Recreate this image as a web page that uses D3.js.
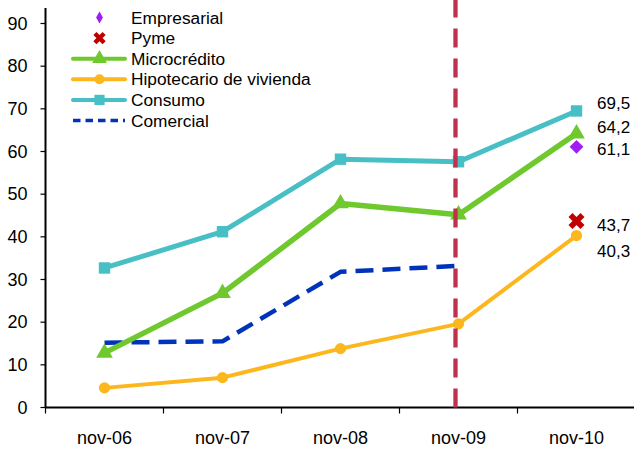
<!DOCTYPE html>
<html>
<head>
<meta charset="utf-8">
<script src="https://cdn.jsdelivr.net/npm/d3@7"></script>
<style>
  html, body { margin: 0; padding: 0; background: #fff; }
  svg { display: block; font-family: "Liberation Sans", Arial, sans-serif; }
</style>
</head>
<body>
<svg id="chart" width="634" height="449"></svg>
<script>
// ---- data ----
const categories = ["nov-06", "nov-07", "nov-08", "nov-09", "nov-10"];
const consumo      = [32.7, 41.2, 58.2, 57.6, 69.5];
const microcredito = [12.8, 26.8, 47.8, 45.2, 64.2];
const hipotecario  = [4.6, 7.0, 13.8, 19.6, 40.3];
const comercial    = [15.2, 15.5, 31.8, 33.2, null];
const empresarial  = [null, null, null, null, 61.1];
const pyme         = [null, null, null, null, 43.7];
const yTicks = [0, 10, 20, 30, 40, 50, 60, 70, 80, 90];
const markerCategory = "nov-09";
const legendNames = ["Empresarial", "Pyme", "Microcrédito", "Hipotecario de vivienda", "Consumo", "Comercial"];

// ---- setup ----
const svg = d3.select("#chart");
const x = d3.scaleBand().domain(categories).range([45.5, 635.5]);
const y = d3.scaleLinear().domain([0, 90]).range([407.5, 23.5]);
const cx = c => x(c) + x.bandwidth() / 2;

const series = [
  { name: "Comercial", values: comercial, color: "#0033BB", width: 4.5, dash: "18,9", symbol: null, legendDash: "7.5,5", legendWidth: 3.5 },
  { name: "Hipotecario de vivienda", values: hipotecario, color: "#FDB71E", width: 4, symbol: "circle", size: 100, labelDy: 15 },
  { name: "Consumo", values: consumo, color: "#48BFC5", width: 5, symbol: "square", size: 130, labelDy: -8 },
  { name: "Microcrédito", values: microcredito, color: "#70C82F", width: 5.5, symbol: "triangle", size: 120, labelDy: -7 },
  { name: "Empresarial", values: empresarial, color: "#A01CF5", symbol: "diamond", size: 95, labelDy: 2.5 },
  { name: "Pyme", values: pyme, color: "#C00000", symbol: "x", size: 160, labelDy: 4 }
];

function symPath(kind, size) {
  if (kind === "circle") return d3.symbol(d3.symbolCircle, size)();
  if (kind === "square") return d3.symbol(d3.symbolSquare, size)();
  if (kind === "triangle") return d3.symbol(d3.symbolTriangle, size)();
  if (kind === "diamond") return d3.symbol(d3.symbolSquare, size)();
  if (kind === "diamondTall") return d3.symbol(d3.symbolDiamond, size)();
  if (kind === "x") return d3.symbol(d3.symbolCross, size)();
  return null;
}
function symRotate(kind) {
  return (kind === "diamond" || kind === "x") ? 45 : 0;
}

// ---- axes ----
const gY = svg.append("g").attr("transform", "translate(45.5,0)");
gY.append("line").attr("x1", 0).attr("x2", 0).attr("y1", 8).attr("y2", y(0))
  .attr("stroke", "#000").attr("stroke-width", 2);
gY.selectAll("line.t").data(yTicks).join("line").attr("class", "t")
  .attr("x1", -5).attr("x2", 0).attr("y1", d => y(d)).attr("y2", d => y(d))
  .attr("stroke", "#000").attr("stroke-width", 1.2);
gY.selectAll("text").data(yTicks).join("text")
  .attr("x", -18).attr("y", d => y(d)).attr("dy", "0.35em")
  .attr("text-anchor", "end").attr("font-size", 18).attr("fill", "#000")
  .text(d => d);

const gX = svg.append("g");
gX.append("line").attr("x1", 45.5).attr("x2", 634).attr("y1", y(0)).attr("y2", y(0))
  .attr("stroke", "#000").attr("stroke-width", 2);
const bounds = categories.map(c => x(c)).concat([x.range()[1]]);
gX.selectAll("line.t").data(bounds).join("line").attr("class", "t")
  .attr("x1", d => d).attr("x2", d => d).attr("y1", y(0)).attr("y2", y(0) + 6)
  .attr("stroke", "#000").attr("stroke-width", 1.2);
gX.selectAll("text").data(categories).join("text")
  .attr("x", d => cx(d)).attr("y", 438).attr("dy", "0.35em")
  .attr("text-anchor", "middle").attr("font-size", 18).attr("fill", "#000")
  .text(d => d);

// ---- lines ----
const plot = svg.append("g");
series.forEach(s => {
  const pts = categories.map((c, i) => ({ c, v: s.values[i] })).filter(p => p.v != null);
  if (s.width && pts.length > 1) {
    plot.append("path").datum(pts)
      .attr("d", d3.line().x(p => cx(p.c)).y(p => y(p.v)))
      .attr("fill", "none").attr("stroke", s.color).attr("stroke-width", s.width)
      .attr("stroke-linejoin", "round")
      .attr("stroke-dasharray", s.dash || null);
  }
  if (s.symbol) {
    plot.selectAll(null).data(pts).join("path")
      .attr("d", symPath(s.symbol, s.size))
      .attr("transform", p => `translate(${cx(p.c)},${y(p.v)}) rotate(${symRotate(s.symbol)})`)
      .attr("fill", s.color);
  }
});

// ---- vertical dashed marker ----
svg.append("line")
  .attr("x1", cx(markerCategory) - 3).attr("x2", cx(markerCategory) - 3)
  .attr("y1", y(0)).attr("y2", 0)
  .attr("stroke", "#C0304F").attr("stroke-width", 4.3)
  .attr("stroke-dasharray", "19,11");

// ---- end labels ----
series.filter(s => s.labelDy !== undefined).forEach(s => {
  const v = s.values[categories.length - 1];
  svg.append("text")
    .attr("x", 597).attr("y", y(v) + s.labelDy).attr("dy", "0.35em")
    .attr("font-size", 17).attr("fill", "#000")
    .text(d3.format(".1f")(v).replace(".", ","));
});

// ---- legend ----
const legendRows = legendNames.map(n => series.find(s => s.name === n));
const lg = svg.append("g");
legendRows.forEach((s, i) => {
  const ly = 17.5 + i * 20.6;
  const g = lg.append("g").attr("transform", `translate(0,${ly})`);
  if (s.width) {
    g.append("line").attr("x1", 73).attr("x2", 125).attr("y1", 0).attr("y2", 0)
      .attr("stroke", s.color).attr("stroke-width", s.legendWidth || 4)
      .attr("stroke-linecap", s.dash ? "butt" : "round")
      .attr("stroke-dasharray", s.legendDash || null);
  }
  if (s.symbol) {
    let kind = s.symbol, size = s.size * 0.8;
    if (kind === "diamond") { kind = "diamondTall"; size = 40; }
    if (kind === "x") size = 95;
    g.append("path").attr("d", symPath(kind, size))
      .attr("transform", `translate(99.5,0) rotate(${kind === "x" ? 45 : 0})`)
      .attr("fill", s.color);
  }
  g.append("text").attr("x", 131).attr("y", 0).attr("dy", "0.35em")
    .attr("font-size", 17.3).attr("fill", "#000").text(s.name);
});
</script>
</body>
</html>
